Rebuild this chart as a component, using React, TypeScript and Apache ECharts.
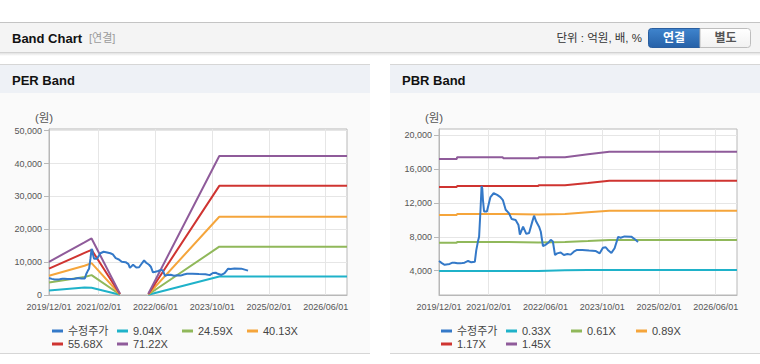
import React, { useEffect, useRef } from 'react';
import * as echarts from 'echarts';

// ---------- data ----------
const axisStartDate = '2019-12-01';
const axisEndDate = '2026-12-01';
const xTickLabels = ['2019/12/01', '2021/02/01', '2022/06/01', '2023/10/01', '2025/02/01', '2026/06/01'];

const perYTicks = [0, 10000, 20000, 30000, 40000, 50000];
const perYMax = 50500;
const pbrYTicks = [4000, 8000, 12000, 16000, 20000];
const pbrYMin = 1130;
const pbrYMax = 20740;

const priceName = '수정주가';
const priceDates = [
  '2019-12-01', '2019-12-25', '2020-01-19', '2020-02-16', '2020-03-01', '2020-03-25', '2020-04-13',
  '2020-05-07', '2020-06-01', '2020-06-19', '2020-07-07', '2020-08-07', '2020-09-04', '2020-10-04',
  '2020-10-16', '2020-11-01', '2020-11-10', '2020-11-22', '2020-12-01', '2020-12-07', '2020-12-13',
  '2020-12-22', '2021-01-16', '2021-02-16', '2021-03-13', '2021-04-13', '2021-05-10', '2021-06-01',
  '2021-06-25', '2021-07-22', '2021-08-16', '2021-09-19', '2021-10-13', '2021-10-25', '2021-11-22',
  '2021-12-19', '2022-01-13', '2022-02-10', '2022-02-25', '2022-03-13', '2022-04-07', '2022-04-22',
  '2022-05-10', '2022-06-01', '2022-06-25', '2022-07-16', '2022-08-04', '2022-08-22', '2022-09-10',
  '2022-10-10', '2022-11-07', '2022-12-07', '2023-01-04', '2023-02-01', '2023-02-28', '2023-04-13',
  '2023-06-10', '2023-08-04', '2023-09-10', '2023-10-07', '2023-11-01', '2023-11-19', '2023-12-19',
  '2024-01-16', '2024-02-16', '2024-03-07', '2024-04-10', '2024-06-07', '2024-07-13', '2024-08-04',
];
const priceValues = [
  5150, 4900, 4700, 4750, 4800, 4950, 4950,
  4880, 4870, 4900, 4950, 5150, 4990, 5050,
  6400, 7500, 8000, 11200, 14000, 13700, 12300,
  11000, 11000, 12700, 13150, 12950, 12700, 12350,
  11200, 10800, 10100, 10000, 9400, 8250, 9200,
  8350, 8450, 9800, 10500, 9800, 9200, 8600,
  6900, 7050, 7300, 7650, 7450, 5850, 6050,
  6150, 5850, 5980, 5900, 6250, 6450, 6450,
  6380, 6330, 6050, 6700, 6770, 6450, 6100,
  6650, 8000, 7900, 8050, 8020, 7650, 7400,
];

// PER band (null = no band drawn)
const perBandDates = ['2019-12-01', '2020-10-01', '2020-12-01', '2021-08-01', '2022-01-01', '2022-04-01', '2023-12-01', '2026-12-01'];
const perBandNames = ['9.04X', '24.59X', '40.13X', '55.68X', '71.22X'];
const per904 = [1400, 2300, 2200, 50, null, 50, 5600, 5600];
const per2459 = [3800, 5500, 6050, 140, null, 140, 14700, 14700];
const per4013 = [5850, 8900, 9700, 230, null, 230, 23800, 23800];
const per5568 = [8000, 12800, 13750, 320, null, 320, 33200, 33200];
const per7122 = [10100, 16000, 17200, 400, null, 400, 42300, 42300];

// PBR band
const pbrBandDates = ['2019-12-01', '2020-05-01', '2020-05-04', '2021-06-01', '2021-06-04', '2022-04-01', '2022-04-04', '2022-11-16', '2023-06-01', '2023-12-01', '2026-12-01'];
const pbrBandNames = ['0.33X', '0.61X', '0.89X', '1.17X', '1.45X'];
const pbr033 = [3960, 3960, 3960, 3960, 3960, 3960, 3960, 4050, 4080, 4080, 4080];
const pbr061 = [7300, 7300, 7400, 7400, 7330, 7330, 7380, 7380, 7500, 7630, 7630];
const pbr089 = [10580, 10580, 10700, 10700, 10650, 10650, 10700, 10700, 10900, 11080, 11080];
const pbr117 = [13890, 13890, 14000, 14000, 14000, 14000, 14100, 14100, 14350, 14630, 14630];
const pbr145 = [17200, 17200, 17400, 17400, 17280, 17280, 17400, 17400, 17750, 18060, 18060];

const bandColors = ['#1fb2c9', '#90b85a', '#f5a53b', '#cf3431', '#8f5b9a'];
const priceColor = '#3479c8';

// ---------- helpers ----------
const FONT = "'Liberation Sans', Arial, 'Noto Sans CJK KR', sans-serif";

function toMonth(s: string): number {
  const [y, m, d] = s.split(/[-/]/).map(Number);
  const [y0, m0] = axisStartDate.split('-').map(Number);
  return (y - y0) * 12 + (m - m0) + (d - 1) / 30;
}
const xTickMonths = xTickLabels.map(toMonth);
const xMax = toMonth(axisEndDate);

function pairs(dates: string[], values: (number | null)[]) {
  return dates.map((d, i) => [toMonth(d), values[i] === null ? '-' : values[i]]);
}

function xLabel(v: number) {
  for (let i = 0; i < xTickMonths.length; i++) {
    if (Math.abs(xTickMonths[i] - v) < 0.01) return xTickLabels[i];
  }
  return '';
}

function buildOption() {
  const gridCommon = { top: 129, height: 166, width: 298, show: true, borderColor: '#b8b8b8', borderWidth: 1, backgroundColor: '#ffffff' };
  const xAxis = [0, 1].map((g) => ({
    type: 'value', gridIndex: g, min: 0, max: xMax,
    axisLine: { show: true, lineStyle: { color: '#b8b8b8' } },
    axisTick: { show: false, customValues: xTickMonths },
    axisLabel: { customValues: xTickMonths, formatter: xLabel, fontSize: 9, color: '#555', margin: 7, fontFamily: FONT },
    splitLine: { show: true, lineStyle: { color: '#e6e6e6', width: 1 } },
  }));
  const yCommon = (g: number, min: number, max: number, ticks: number[]) => ({
    type: 'value', gridIndex: g, min, max,
    axisLine: { show: true, lineStyle: { color: '#b8b8b8' } },
    axisTick: { show: true, length: 5, customValues: ticks, lineStyle: { color: '#b8b8b8' } },
    axisLabel: { customValues: ticks, formatter: (v: number) => v.toLocaleString('en-US'), fontSize: 9, color: '#555', margin: 7, fontFamily: FONT },
    splitLine: { show: true, lineStyle: { color: '#e6e6e6', width: 1 } },
  });
  const yAxis = [yCommon(0, 0, perYMax, perYTicks), yCommon(1, pbrYMin, pbrYMax, pbrYTicks)];

  const line = (name: string, color: string, data: any[], idx: number, z = 2) => ({
    type: 'line', name, data, xAxisIndex: idx, yAxisIndex: idx,
    showSymbol: false, symbol: 'none', connectNulls: false, z,
    color, itemStyle: { color }, lineStyle: { color, width: 2 },
  });

  const perVals = [per904, per2459, per4013, per5568, per7122];
  const pbrVals = [pbr033, pbr061, pbr089, pbr117, pbr145];
  const series: any[] = [];
  perVals.forEach((v, i) => series.push(line(perBandNames[i], bandColors[i], pairs(perBandDates, v), 0)));
  series.push(line(priceName, priceColor, pairs(priceDates, priceValues), 0, 3));
  pbrVals.forEach((v, i) => series.push(line(pbrBandNames[i], bandColors[i], pairs(pbrBandDates, v), 1)));
  series.push(line(priceName, priceColor, pairs(priceDates, priceValues), 1, 3));

  const legends: any[] = [];
  const addLegends = (names: string[], baseX: number) => {
    names.forEach((n, i) => {
      const col = i % 4;
      const row = Math.floor(i / 4);
      legends.push({
        left: baseX + col * 65, top: 325 + row * 13, padding: 0,
        data: [n], icon: 'rect', itemWidth: 11, itemHeight: 3, selectedMode: false,
        textStyle: { fontSize: 11, color: '#444', fontFamily: FONT, lineHeight: 12 },
      });
    });
  };
  addLegends([priceName, ...perBandNames], 52);
  addLegends([priceName, ...pbrBandNames], 441);

  const rect = (x: number, y: number, w: number, h: number, fill: any) => ({
    type: 'rect', z: -5, shape: { x, y, width: w, height: h }, style: { fill }, silent: true,
  });
  const text = (t: string, x: number, y: number, font: any, extra: any = {}) => ({
    type: 'text', x, y, silent: true,
    style: { text: t, fontFamily: FONT, verticalAlign: 'middle', align: 'left', ...font, ...extra },
  });
  const vGrad = (a: string, b: string) => new echarts.graphic.LinearGradient(0, 0, 0, 1, [{ offset: 0, color: a }, { offset: 1, color: b }]);

  const graphic: any[] = [
    rect(0, 22, 760, 1, '#c4c4c4'),
    rect(0, 23, 760, 29, '#f4f4f4'),
    rect(0, 52, 760, 1, '#d2d2d2'),
    rect(0, 53, 760, 3, vGrad('#e2e2e2', '#ffffff')),
    text('Band Chart', 12, 38, { fontSize: 13, fontWeight: 'bold', fill: '#111' }),
    text('[연결]', 89, 38, { fontSize: 11, fill: '#9a9a9a' }),
    text('단위 : 억원, 배, %', 642, 38, { fontSize: 11.5, fill: '#333' }, { align: 'right' }),
    { type: 'rect', z: 1, silent: true, shape: { x: 648.5, y: 28.5, width: 51.5, height: 19, r: [3, 0, 0, 3] }, style: { fill: vGrad('#3f84cd', '#2661a8'), stroke: '#2a5e9f', lineWidth: 1 } },
    { type: 'rect', z: 1, silent: true, shape: { x: 700, y: 28.5, width: 50.5, height: 19, r: [0, 3, 3, 0] }, style: { fill: vGrad('#ffffff', '#f1f1f1'), stroke: '#bdbdbd', lineWidth: 1 } },
    { ...text('연결', 674, 38, { fontSize: 12, fontWeight: 'bold', fill: '#ffffff' }, { align: 'center' }), z: 2 },
    { ...text('별도', 725.5, 38, { fontSize: 12, fontWeight: 'bold', fill: '#555' }, { align: 'center' }), z: 2 },
  ];
  [{ x: 0, title: 'PER Band' }, { x: 390, title: 'PBR Band' }].forEach((p) => {
    graphic.push(rect(p.x, 64, 370, 1, '#d6d6d6'));
    graphic.push(rect(p.x, 65, 370, 28, '#eef1f6'));
    graphic.push(rect(p.x, 93, 370, 260, '#fafafa'));
    graphic.push(rect(p.x, 353, 370, 1, '#d6d6d6'));
    graphic.push(text(p.title, p.x + 12, 80.5, { fontSize: 13, fontWeight: 'bold', fill: '#111' }));
    graphic.push(text('(원)', p.x + 44, 117.5, { fontSize: 11.5, fill: '#555' }, { align: 'center' }));
  });

  return {
    animation: false,
    backgroundColor: '#ffffff',
    textStyle: { fontFamily: FONT },
    grid: [{ ...gridCommon, left: 49 }, { ...gridCommon, left: 439 }],
    xAxis, yAxis, series, legend: legends, graphic,
  };
}

export default function App() {
  const ref = useRef<HTMLDivElement>(null);
  useEffect(() => {
    if (!ref.current) return;
    const chart = echarts.init(ref.current, undefined, { renderer: 'svg' });
    chart.setOption(buildOption() as any);
    return () => chart.dispose();
  }, []);
  return <div ref={ref} style={{ position: 'fixed', left: 0, top: 0, width: 760, height: 364, background: '#fff' }} />;
}
